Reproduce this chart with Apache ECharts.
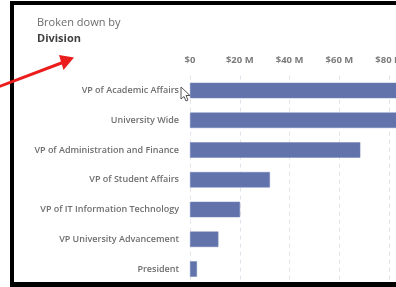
<!DOCTYPE html>
<html>
<head>
<meta charset="utf-8">
<script src="https://cdn.jsdelivr.net/npm/echarts@6/dist/echarts.min.js"></script>
<style>
  html, body { margin: 0; padding: 0; background: #fff; overflow: hidden; }
  #main { width: 560px; height: 287px; }
</style>
</head>
<body>
<div id="main"></div>
<script>
// 数据
var divisions = [
  'VP of Academic Affairs',
  'University Wide',
  'VP of Administration and Finance',
  'VP of Student Affairs',
  'VP of IT Information Technology',
  'VP University Advancement',
  'President'
];
var amounts = [118, 104, 68.4, 32.1, 20.1, 11.4, 2.8]; // $ M
var tickValues = [0, 20, 40, 60, 80, 100, 120, 140];

var chart = echarts.init(document.getElementById('main'), null, { renderer: 'canvas' });

var font = '"Open Sans", "Noto Sans", sans-serif';

var option = {
  animation: false,
  textStyle: { fontFamily: font },
  title: {
    left: 37,
    top: 17,
    padding: 0,
    itemGap: 5,
    text: 'Broken down by',
    textStyle: { fontSize: 11, fontWeight: 'normal', color: '#6b6b6b', fontFamily: font },
    subtext: 'Division',
    subtextStyle: { fontSize: 11, fontWeight: 'bold', color: '#3f3f3f', fontFamily: font }
  },
  grid: {
    left: 190,
    top: 75.6,
    width: 348.6,
    height: 208.3
  },
  xAxis: {
    type: 'value',
    position: 'top',
    min: tickValues[0],
    max: tickValues[tickValues.length - 1],
    interval: 20,
    axisLine: { show: false },
    axisTick: { show: false },
    axisLabel: {
      margin: 10,
      fontSize: 9.5,
      fontWeight: 'bold',
      color: '#7b7b7b',
      fontFamily: font,
      formatter: function (v) { return v === 0 ? '$0' : '$' + v + ' M'; }
    },
    splitLine: { show: true, lineStyle: { color: '#e2e3ec', type: [4, 4], width: 1 } }
  },
  yAxis: {
    type: 'category',
    inverse: true,
    data: divisions,
    axisLine: { show: false },
    axisTick: { show: false },
    axisLabel: {
      margin: 11,
      fontSize: 9,
      fontWeight: 600,
      color: '#6e6e6e',
      fontFamily: font
    }
  },
  series: [{
    type: 'bar',
    data: amounts,
    barWidth: 15.5,
    itemStyle: { color: '#6273ab', borderColor: '#7585ba', borderWidth: 0.5 }
  }],
  graphic: [
    // black frame of the screenshot
    { type: 'rect', z: 100, shape: { x: 10, y: 1, width: 4, height: 286 }, style: { fill: '#000' } },
    { type: 'rect', z: 100, shape: { x: 10, y: 1, width: 400, height: 4 }, style: { fill: '#000' } },
    { type: 'rect', z: 100, shape: { x: 10, y: 282, width: 400, height: 5 }, style: { fill: '#000' } },
    // red arrow
    { type: 'line', z: 101, shape: { x1: -2, y1: 87, x2: 64, y2: 62 }, style: { stroke: '#ea1c1c', lineWidth: 3 } },
    { type: 'polygon', z: 101, shape: { points: [[74, 57.5], [59, 55], [63.5, 70]] }, style: { fill: '#ea1c1c' } },
    // mouse cursor
    {
      type: 'polygon', z: 102,
      shape: { points: [[181, 87], [181, 99], [184, 96.5], [186, 101], [188, 100], [186, 95.5], [190, 95.5]] },
      style: { fill: '#fff', stroke: '#555', lineWidth: 1 }
    }
  ]
};

chart.setOption(option);
</script>
</body>
</html>
